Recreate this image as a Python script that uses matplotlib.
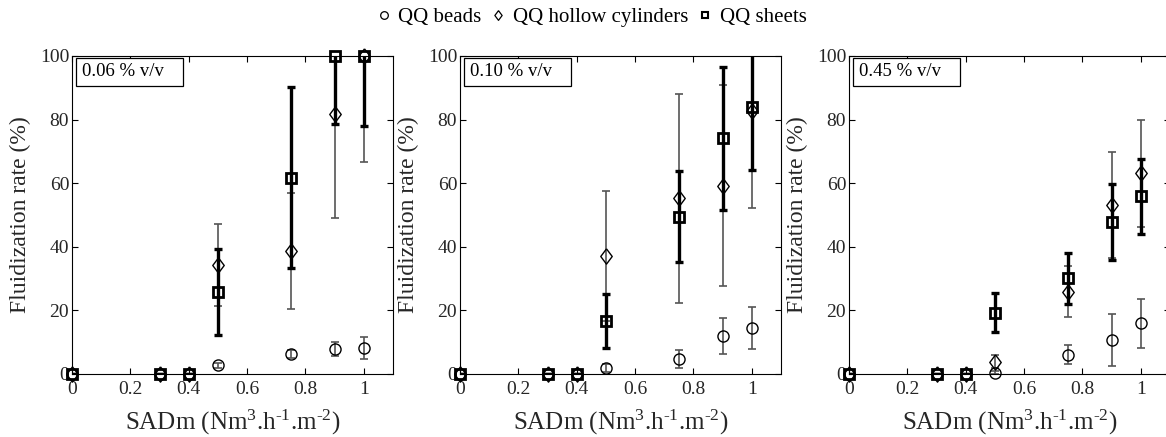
import matplotlib
matplotlib.use("Agg")
import matplotlib.pyplot as plt
from matplotlib.lines import Line2D
from matplotlib.patches import Rectangle
import numpy as np

plt.rcParams['font.family'] = 'Liberation Serif'
plt.rcParams['mathtext.fontset'] = 'custom'
plt.rcParams['mathtext.rm'] = 'Liberation Serif'
plt.rcParams['mathtext.it'] = 'Liberation Serif:italic'

# SADm values (Nm3.h-1.m-2)
sadm = [0, 0.3, 0.4, 0.5, 0.75, 0.9, 1.0]

# 0.06 % v/v
beads_006 = [0, 0, 0, 2.8, 6.3, 7.8, 8.2]
beads_006_err = [0, 0, 0, 0.8, 1.3, 2.2, 3.4]
cyl_006 = [0, 0, 0, 34.3, 38.6, 81.9, 100]
cyl_006_err = [0, 0, 0, 12.8, 18.3, 32.9, 33.3]
sheets_006 = [0, 0, 0, 25.9, 61.7, 100, 100]
sheets_006_err = [0, 0, 0, 13.5, 28.5, 21.4, 22.0]

# 0.10 % v/v
beads_010 = [0, 0, 0, 1.8, 4.7, 12.0, 14.4]
beads_010_err = [0, 0, 0, 1.2, 2.7, 5.6, 6.6]
cyl_010 = [0, 0, 0, 37.2, 55.2, 59.2, 82.7]
cyl_010_err = [0, 0, 0, 20.5, 33.0, 31.6, 30.6]
sheets_010 = [0, 0, 0, 16.7, 49.4, 74.1, 84.1]
sheets_010_err = [0, 0, 0, 8.6, 14.3, 22.4, 20.1]

# 0.45 % v/v
beads_045 = [0, 0, 0, 0.4, 6.0, 10.7, 15.9]
beads_045_err = [0, 0, 0, 0.5, 3.0, 8.3, 7.7]
cyl_045 = [0, 0, 0, 3.9, 25.9, 53.1, 63.1]
cyl_045_err = [0, 0, 0, 2.0, 8.0, 16.7, 16.8]
sheets_045 = [0, 0, 0, 19.3, 30.1, 47.7, 55.9]
sheets_045_err = [0, 0, 0, 6.2, 8.0, 12.0, 11.8]

labels = ['0.06 % v/v', '0.10 % v/v', '0.45 % v/v']
panels = [
    (beads_006, beads_006_err, cyl_006, cyl_006_err, sheets_006, sheets_006_err),
    (beads_010, beads_010_err, cyl_010, cyl_010_err, sheets_010, sheets_010_err),
    (beads_045, beads_045_err, cyl_045, cyl_045_err, sheets_045, sheets_045_err),
]

diamond = [(0, 1), (0.75, 0), (0, -1), (-0.75, 0), (0, 1)]
thin_col = '#555555'

fig = plt.figure(figsize=(11.66, 4.37), dpi=100)
lefts = [72, 460, 849]
W, H = 1166.0, 437.0

for i, (left, lab, p) in enumerate(zip(lefts, labels, panels)):
    ax = fig.add_axes([left / W, (H - 374) / H, 321 / W, 318 / H])
    b, be, c, ce, s, se = p

    ax.errorbar(sadm, b, yerr=be, fmt='none', ecolor=thin_col, elinewidth=1.2,
                capsize=3, capthick=1.2)
    ax.errorbar(sadm, c, yerr=ce, fmt='none', ecolor=thin_col, elinewidth=1.2,
                capsize=3, capthick=1.2)
    ax.errorbar(sadm, s, yerr=se, fmt='none', ecolor='black', elinewidth=2.4,
                capsize=3, capthick=2.4)

    ax.plot(sadm, b, 'o', ms=8, mfc='none', mec='black', mew=1.0, clip_on=False, zorder=5)
    ax.plot(sadm, c, marker=diamond, ls='none', ms=11, mfc='none', mec='black', mew=1.0,
            clip_on=False, zorder=5)
    ax.plot(sadm, s, 's', ms=6.5, mfc='none', mec='black', mew=2.0, clip_on=False, zorder=6)

    ax.set_xlim(0, 1.1)
    ax.set_ylim(0, 100)
    ax.set_xticks([0, 0.2, 0.4, 0.6, 0.8, 1.0])
    ax.set_xticklabels(['0', '0.2', '0.4', '0.6', '0.8', '1'])
    ax.set_yticks([0, 20, 40, 60, 80, 100])
    ax.tick_params(direction='in', top=True, right=True, length=4, width=0.8,
                   labelsize=14, labelcolor='#262626', pad=2)
    ax.tick_params(axis='x', pad=5)
    for sp in ax.spines.values():
        sp.set_linewidth(0.8)

    ax.set_xlabel(r'SADm (Nm$^{3}$.h$^{\text{-}1}$.m$^{\text{-}2}$)', fontsize=18,
                  color='#262626', labelpad=7)
    ax.set_ylabel('Fluidization rate (%)', fontsize=17, color='#262626', labelpad=6)

    ax.add_patch(Rectangle((0.012, 0.905), 0.335, 0.09, transform=ax.transAxes,
                           fc='white', ec='black', lw=0.9, zorder=10))
    ax.text(0.03, 0.95, lab, transform=ax.transAxes, fontsize=13.5, va='center',
            ha='left', zorder=11)

handles = [
    Line2D([], [], marker='o', ls='none', ms=5.5, mfc='none', mec='black', mew=0.9),
    Line2D([], [], marker=diamond, ls='none', ms=7, mfc='none', mec='black', mew=0.9),
    Line2D([], [], marker='s', ls='none', ms=5, mfc='none', mec='black', mew=1.5),
]
fig.legend(handles, ['QQ beads', 'QQ hollow cylinders', 'QQ sheets'],
           loc='center', bbox_to_anchor=(591 / W, 1 - 17 / H), ncol=3, frameon=False,
           fontsize=15, handlelength=0.8, handletextpad=0.3, columnspacing=0.4)

fig.savefig('out.png', dpi=100)
